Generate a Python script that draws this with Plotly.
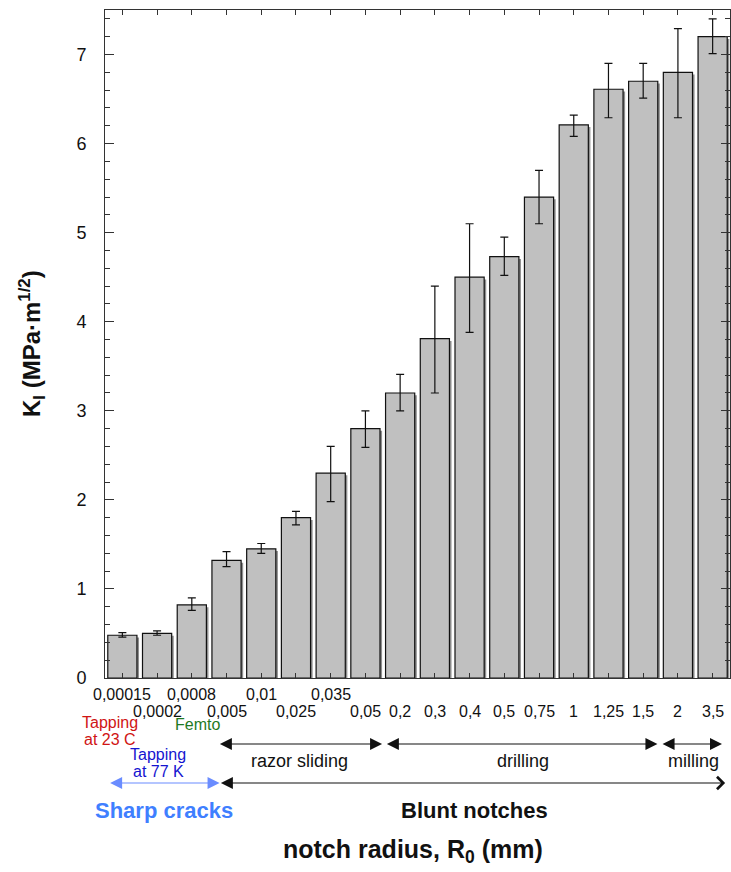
import plotly.graph_objects as go

# ---------------- data ----------------
radius_labels = ["0,00015", "0,0002", "0,0008", "0,005", "0,01", "0,025", "0,035",
                 "0,05", "0,2", "0,3", "0,4", "0,5", "0,75", "1", "1,25", "1,5", "2", "3,5"]
k_values = [0.48, 0.50, 0.82, 1.32, 1.45, 1.80, 2.30, 2.80, 3.20, 3.81, 4.50,
            4.73, 5.40, 6.21, 6.61, 6.70, 6.80, 7.20]
err_plus = [0.03, 0.03, 0.08, 0.10, 0.06, 0.07, 0.30, 0.20, 0.21, 0.59, 0.60,
            0.22, 0.30, 0.11, 0.29, 0.20, 0.49, 0.20]
err_minus = [0.02, 0.02, 0.06, 0.07, 0.05, 0.08, 0.32, 0.21, 0.20, 0.61, 0.62,
             0.21, 0.30, 0.13, 0.32, 0.19, 0.51, 0.19]
y_tick_values = [0, 1, 2, 3, 4, 5, 6, 7]

x_idx = list(range(len(radius_labels)))

FONT = "Liberation Sans, Arial, sans-serif"
BAR_W = 0.84

fig = go.Figure()

# drop shadow of bars
fig.add_trace(go.Bar(
    x=x_idx, y=k_values, base=-0.025, width=BAR_W, offset=-BAR_W / 2 + 0.06,
    marker=dict(color="#8f8f8f", line=dict(width=0)),
    hoverinfo="skip", showlegend=False,
))
# bars
fig.add_trace(go.Bar(
    x=x_idx, y=k_values, width=BAR_W,
    marker=dict(color="#c0c0c0", line=dict(color="#111111", width=1.2)),
    error_y=dict(type="data", symmetric=False, array=err_plus, arrayminus=err_minus,
                 color="#111111", thickness=1.2, width=4),
    showlegend=False,
))

annotations = []
# x category labels (two staggered rows)
for i, lab in enumerate(radius_labels):
    row = 0 if (i < 8 and i % 2 == 0) else 1
    annotations.append(dict(
        x=i, xref="x", y=0, yref="y", yshift=-16 - 17 * row, yanchor="middle",
        text=lab, showarrow=False, font=dict(family=FONT, size=16, color="#111111")))

def txt(x, yshift, text, color, size=16, bold=False):
    if bold:
        text = "<b>" + text + "</b>"
    annotations.append(dict(x=x, xref="x", y=0, yref="y", yshift=yshift, yanchor="middle",
                            text=text, showarrow=False,
                            font=dict(family=FONT, size=size, color=color)))

txt(-0.37, -(722 - 678), "Tapping", "#d01414")
txt(-0.37, -(739 - 678), "at 23 C", "#d01414")
txt(2.15, -(724 - 678), "Femto", "#1f7a1f")
txt(1.03, -(754 - 678), "Tapping", "#1414d0")
txt(1.03, -(771 - 678), "at 77 K", "#1414d0")
txt(1.2, -(810 - 678), "Sharp cracks", "#3f7fff", size=22, bold=True)
txt(5.09, -(761 - 678), "razor sliding", "#111111", size=18)
txt(11.54, -(761 - 678), "drilling", "#111111", size=18)
txt(16.46, -(761 - 678), "milling", "#111111", size=18)
txt(10.13, -(810 - 678), "Blunt notches", "#111111", size=22, bold=True)

def arrow(x0, x1, yshift, color, head_end=2, head_start=2):
    annotations.append(dict(
        x=x1, xref="x", ax=x0, axref="x", y=0, yref="y", ay=0, ayref="pixel",
        yshift=yshift, text=" ", showarrow=True, arrowside="end+start",
        arrowhead=head_end, startarrowhead=head_start,
        arrowsize=2, startarrowsize=2, arrowwidth=1.2, arrowcolor=color,
        standoff=0, startstandoff=0, font=dict(size=2)))

arrow(2.75, 7.48, -(744 - 678), "#111111")
arrow(7.56, 15.41, -(744 - 678), "#111111")
arrow(15.5, 17.27, -(744 - 678), "#111111")
arrow(-0.41, 2.8, -(783 - 678), "#6a8cff")
arrow(2.78, 17.36, -(783 - 678), "#111111", head_end=4)

# axis titles
annotations.append(dict(
    x=0, xref="paper", xshift=-(105 - 32), y=0.5, yref="paper",
    xanchor="center", yanchor="middle", textangle=-90, showarrow=False,
    text="<b>K<sub>I</sub> (MPa·m<sup>1/2</sup>)</b>",
    font=dict(family=FONT, size=24, color="#111111")))
annotations.append(dict(
    x=0.493, xref="paper", y=0, yref="paper", yshift=-(851 - 678),
    xanchor="center", yanchor="middle", showarrow=False,
    text="<b>notch radius, R<sub>0</sub> (mm)</b>",
    font=dict(family=FONT, size=25, color="#111111")))

fig.update_layout(
    width=731, height=872,
    margin=dict(l=105, r=1, t=10, b=194, pad=0),
    barmode="overlay",
    plot_bgcolor="white", paper_bgcolor="white",
    annotations=annotations,
    xaxis=dict(range=[-0.5, len(radius_labels) - 0.5], tickvals=x_idx, showticklabels=False,
               ticks="inside", ticklen=5, tickcolor="#333333", tickwidth=1,
               showline=True, linecolor="#333333", linewidth=1, mirror="ticks",
               showgrid=False, zeroline=False, fixedrange=True),
    yaxis=dict(range=[0, 7.5], tickvals=y_tick_values, ticks="inside", ticklen=9,
               tickcolor="#333333", tickwidth=1,
               minor=dict(dtick=0.2, ticks="inside", ticklen=5, tickcolor="#333333", showgrid=False),
               showline=True, linecolor="#333333", linewidth=1, mirror="ticks",
               showgrid=False, zeroline=False, ticklabelstandoff=14,
               tickfont=dict(family=FONT, size=18, color="#111111"), fixedrange=True),
)

fig.write_html("out.html", config={"displayModeBar": False},
               post_script="document.body.style.margin='0';document.body.style.overflow='hidden';")
